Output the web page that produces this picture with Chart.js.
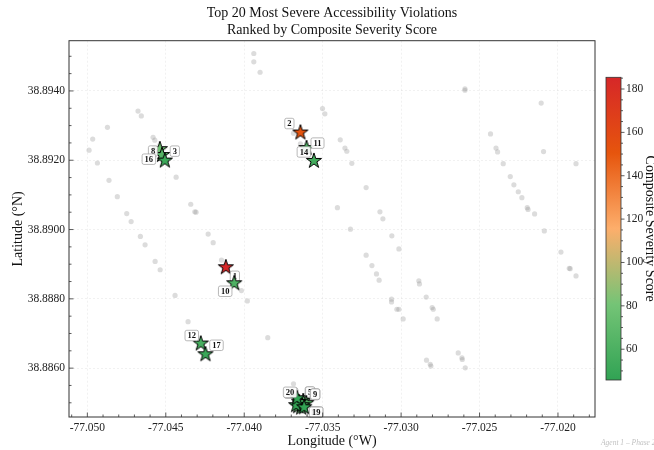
<!DOCTYPE html>
<html><head><meta charset="utf-8">
<script src="https://cdn.jsdelivr.net/npm/chart.js@4.4.0/dist/chart.umd.min.js"></script>
<style>html,body{margin:0;padding:0;background:#fff;}canvas{display:block;}</style>
</head><body>
<canvas id="c" width="654" height="450"></canvas>
<script>
// ---- data ----
const bgLon = [
-77.03939,-77.03939,-77.03899,-77.04677,-77.04656,-77.03501,-77.03486,-77.04872,-77.04966,-77.04989,-77.04936,-77.04581,-77.04570,-77.03686,-77.03642,-77.04434,-77.04862,-77.04809,-77.04341,-77.04315,-77.04307,-77.04749,-77.04721,
-77.04662,-77.04632,-77.04568,-77.04536,-77.04230,-77.04198,-77.04145,-77.04441,-77.04018,-77.03980,-77.04358,-77.03850,-77.03686,
-77.02593,-77.02593,-77.02107,-77.03388,-77.03358,-77.03346,-77.03314,-77.02430,-77.02395,-77.02385,-77.02092,-77.02349,-77.01885,-77.03223,-77.02304,-77.02281,-77.02253,-77.02230,-77.02196,-77.02191,-77.02149,-77.03406,-77.03135,-77.03116,-77.03323,-77.02087,-77.03059,-77.03014,-77.01981,-77.03223,-77.03186,-77.01928,-77.01922,-77.01885,-77.03157,-77.03140,-77.02887,-77.02883,-77.02840,-77.03061,-77.03061,-77.03027,-77.03014,-77.02802,-77.02795,-77.02987,-77.02770,-77.02636,-77.02612,-77.02610,-77.02591,-77.02838,-77.02814,-77.02810
];
const bgLat = [
38.89508,38.89484,38.89454,38.89342,38.89328,38.89349,38.89334,38.89295,38.89261,38.89229,38.89192,38.89266,38.89258,38.89278,38.89247,38.89151,38.89142,38.89095,38.89073,38.89051,38.89050,38.89046,38.89023,
38.88980,38.88956,38.88908,38.88884,38.88987,38.88962,38.88912,38.88810,38.88824,38.88794,38.88734,38.88688,38.88555,
38.89406,38.89402,38.89365,38.89259,38.89235,38.89226,38.89191,38.89276,38.89235,38.89224,38.89225,38.89190,38.89190,38.89121,38.89153,38.89129,38.89109,38.89092,38.89063,38.89058,38.89045,38.89063,38.89051,38.89031,38.89001,38.88996,38.88982,38.88944,38.88935,38.88926,38.88896,38.88888,38.88887,38.88866,38.88872,38.88854,38.88852,38.88843,38.88805,38.88799,38.88791,38.88770,38.88770,38.88775,38.88770,38.88742,38.88742,38.88644,38.88630,38.88625,38.88601,38.88623,38.88611,38.88606
];
const ranks  = [1,2,3,4,5,6,7,8,9,10,11,12,13,14,15,16,17,18,19,20];
const topLon = [-77.04117,-77.03642,-77.04538,-77.03644,-77.03624,-77.03656,-77.03637,-77.04524,-77.03605,-77.04064,-77.03603,-77.04277,-77.03631,-77.03556,-77.03650,-77.04506,-77.04247,-77.03669,-77.03618,-77.03663];
const topLat = [38.88891,38.89280,38.89232,38.88496,38.88505,38.88490,38.88486,38.89215,38.88499,38.88845,38.89235,38.88671,38.88493,38.89198,38.88502,38.89199,38.88640,38.88493,38.88487,38.88513];
const scores = [185.4,152,78,74,71,69,67,65,63,61,60,58,57,55,53,52,50,48,47,45.8];
const xTicks = [-77.050,-77.045,-77.040,-77.035,-77.030,-77.025,-77.020];
const yTicks = [38.8860,38.8880,38.8900,38.8920,38.8940];
const cbTicks = [60,80,100,120,140,160,180];
const titleLines = ['Top 20 Most Severe Accessibility Violations','Ranked by Composite Severity Score'];

// ---- styling ----
const xMin = -77.05117, xMax = -77.01764, yMin = 38.88459, yMax = 38.89545;
const labelOffsets = [[9,9],[-11,-9],[15,2],[9.7,-12],[7,-9],[17,-12],[13.5,-13],[-9,-4],[9,-9],[-9,8],[11,-5],[-9,-8],[-11,-12],[-10,-9],[17,10],[-16,-1.4],[11,-9],[18,7],[12,5],[-7,-6]];
const FONT = "'Liberation Serif', 'Times New Roman', serif";
const cbMin = Math.min(...scores), cbMax = Math.max(...scores);
const stops = [[0,[49,163,84]],[0.25,[116,196,118]],[0.5,[253,174,107]],[0.75,[230,85,13]],[1,[214,39,40]]];
function cmap(v){
  let t = (v-cbMin)/(cbMax-cbMin); t = Math.max(0,Math.min(1,t));
  for (let i=1;i<stops.length;i++){
    if (t<=stops[i][0]){
      const a=stops[i-1], b=stops[i], f=(t-a[0])/(b[0]-a[0]);
      const c=a[1].map((x,k)=>Math.round(x+(b[1][k]-x)*f));
      return 'rgb('+c.join(',')+')';
    }
  }
  return 'rgb('+stops[stops.length-1][1].join(',')+')';
}
function starImage(fill){
  const s=22, c=document.createElement('canvas'); c.width=s; c.height=s;
  const g=c.getContext('2d'); const R=8, r=R*0.381966;
  g.beginPath();
  for (let i=0;i<10;i++){ const a=-Math.PI/2+i*Math.PI/5, rad=i%2?r:R; g.lineTo(s/2+rad*Math.cos(a), s/2+rad*Math.sin(a)); }
  g.closePath(); g.fillStyle=fill; g.fill(); g.lineWidth=1; g.strokeStyle='#000'; g.lineJoin='miter'; g.stroke();
  return c;
}

const datasets = [{
  label:'all', data: bgLon.map((x,i)=>({x, y: bgLat[i]})),
  pointRadius: 2.6, pointBackgroundColor:'rgba(150,150,150,0.33)', pointBorderWidth:0, order: 1000
}];
ranks.forEach((rk,i)=>{
  datasets.push({label:'rank'+rk, rank: rk, data:[{x: topLon[i], y: topLat[i]}],
    pointStyle: starImage(cmap(scores[i])), pointRadius: 8, order: 100-rk});
});

const decor = {
  id:'decor',
  afterDatasetDraw(chart, args){
    const ds = chart.data.datasets[args.index];
    if (!ds.rank) return;
    const i = ds.rank-1, pt = args.meta.data[0];
    const cx = pt.x+labelOffsets[i][0], cy = pt.y+labelOffsets[i][1];
    const ctx = chart.ctx; ctx.save();
    ctx.font = "bold 8.5px "+FONT;
    const txt = String(ds.rank), w = ctx.measureText(txt).width+5, h = 10.5;
    ctx.beginPath(); ctx.roundRect(cx-w/2, cy-h/2, w, h, 1.8);
    ctx.fillStyle='rgba(255,255,255,0.92)'; ctx.fill();
    ctx.lineWidth=0.7; ctx.strokeStyle='#9a9a9a'; ctx.stroke();
    ctx.fillStyle='#111'; ctx.textAlign='center'; ctx.textBaseline='middle';
    ctx.fillText(txt, cx, cy+0.5);
    ctx.restore();
  },
  afterDraw(chart){
    const ctx=chart.ctx, a=chart.chartArea, xs=chart.scales.x, ys=chart.scales.y;
    ctx.save();
    ctx.strokeStyle='#333'; ctx.lineWidth=1;
    ctx.strokeRect(a.left, a.top, a.right-a.left, a.bottom-a.top);
    ctx.lineWidth=0.8; ctx.strokeStyle='#333'; ctx.beginPath();
    for (let k=Math.ceil(xMin/0.001); k*0.001<=xMax; k++){
      const px = xs.getPixelForValue(k*0.001), L = (k%5===0)?4.5:2.5;
      ctx.moveTo(px, a.bottom); ctx.lineTo(px, a.bottom-L);
    }
    for (let k=Math.ceil(yMin/0.0005); k*0.0005<=yMax; k++){
      const py = ys.getPixelForValue(k*0.0005), L = (k%4===0)?4.5:2.5;
      ctx.moveTo(a.left, py); ctx.lineTo(a.left+L, py);
    }
    ctx.stroke();
    ctx.fillStyle='#111'; ctx.textAlign='center'; ctx.textBaseline='alphabetic';
    ctx.font = "14px "+FONT;
    const mid=(a.left+a.right)/2;
    ctx.fillText(titleLines[0], mid, 17);
    ctx.fillText(titleLines[1], mid, 33.5);
    ctx.textBaseline='middle';
    ctx.fillText('Longitude (°W)', mid, 441);
    ctx.save(); ctx.translate(18.5,(a.top+a.bottom)/2); ctx.rotate(-Math.PI/2);
    ctx.fillText('Latitude (°N)',0,0); ctx.restore();
    const cbL=606, cbR=621, cbT=77.3, cbB=380;
    const grad=ctx.createLinearGradient(0,cbB,0,cbT);
    stops.forEach(s=>grad.addColorStop(s[0],'rgb('+s[1].join(',')+')'));
    ctx.fillStyle=grad; ctx.fillRect(cbL,cbT,cbR-cbL,cbB-cbT);
    ctx.strokeStyle='#333'; ctx.lineWidth=0.8; ctx.strokeRect(cbL,cbT,cbR-cbL,cbB-cbT);
    const cy = v => cbB-(v-cbMin)/(cbMax-cbMin)*(cbB-cbT);
    ctx.beginPath();
    for (let v=Math.ceil(cbMin/5)*5; v<=cbMax; v+=5){
      const L = (v%20===0)?3.5:2; ctx.moveTo(cbR, cy(v)); ctx.lineTo(cbR+L, cy(v));
    }
    ctx.stroke();
    ctx.fillStyle='#222'; ctx.font="11.5px "+FONT; ctx.textAlign='left'; ctx.textBaseline='middle';
    cbTicks.forEach(v=>ctx.fillText(String(v), cbR+5, cy(v)));
    ctx.fillStyle='#111'; ctx.font="14px "+FONT; ctx.textAlign='center';
    ctx.save(); ctx.translate(650,(cbT+cbB)/2); ctx.rotate(Math.PI/2);
    ctx.fillText('Composite Severity Score',0,0); ctx.restore();
    ctx.fillStyle='rgba(150,150,150,0.6)'; ctx.font="italic 7.5px "+FONT; ctx.textAlign='left'; ctx.textBaseline='alphabetic';
    ctx.fillText('Agent 1 – Phase 2', 601, 445);
    ctx.restore();
  }
};

new Chart(document.getElementById('c'), {
  type:'scatter',
  data:{datasets},
  options:{
    responsive:false, animation:false, devicePixelRatio:1, events:[],
    layout:{padding:{top:40.7, right:59, left:0, bottom:0}},
    plugins:{legend:{display:false}, tooltip:{enabled:false}, title:{display:false}},
    scales:{
      x:{type:'linear', min:xMin, max:xMax,
        afterBuildTicks: s=>{ s.ticks = xTicks.map(v=>({value:v})); },
        afterFit: s=>{ s.height = 33; },
        ticks:{callback:v=>Number(v).toFixed(3), font:{family:FONT, size:11.5}, color:'#222', padding:4, maxRotation:0, autoSkip:false},
        grid:{color:'rgba(0,0,0,0.07)', lineWidth:0.8, drawTicks:false},
        border:{display:false, dash:[2,2]}},
      y:{type:'linear', min:yMin, max:yMax,
        afterBuildTicks: s=>{ s.ticks = yTicks.map(v=>({value:v})); },
        afterFit: s=>{ s.width = 69; },
        ticks:{callback:v=>Number(v).toFixed(4), font:{family:FONT, size:11.5}, color:'#222', padding:4, autoSkip:false},
        grid:{color:'rgba(0,0,0,0.07)', lineWidth:0.8, drawTicks:false},
        border:{display:false, dash:[2,2]}}
    }
  },
  plugins:[decor]
});
</script>
</body></html>
